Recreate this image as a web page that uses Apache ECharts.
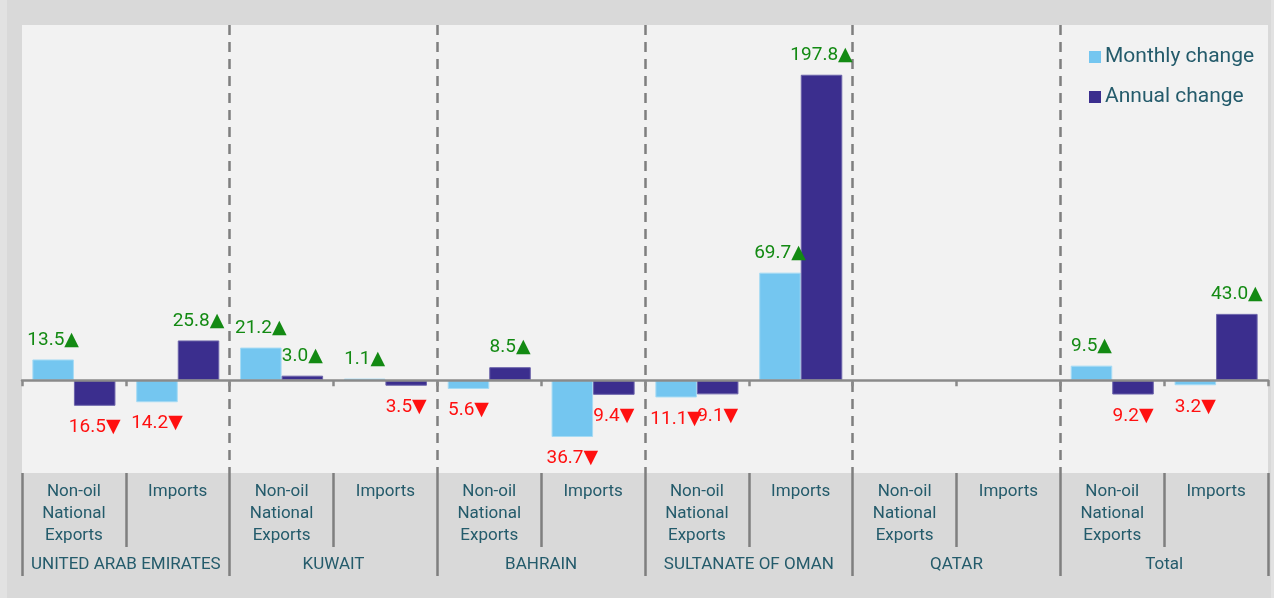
<!DOCTYPE html>
<html>
<head>
<meta charset="utf-8">
<script src="https://cdn.jsdelivr.net/npm/echarts@6/dist/echarts.min.js"></script>
<style>
  html, body { margin: 0; padding: 0; background: #d9d9d9; }
  #chart { width: 1274px; height: 598px; }
</style>
</head>
<body>
<div id="chart"></div>
<script>
// Trade flows per country
const flows = ['Non-oil\nNational\nExports', 'Imports'];
const countries = ['UNITED ARAB EMIRATES', 'KUWAIT', 'BAHRAIN', 'SULTANATE OF OMAN', 'QATAR', 'Total'];

// Percentage changes, one value per (country, flow); Qatar has no figures
const monthlyChange = [13.5, -14.2, 21.2, 1.1, -5.6, -36.7, -11.1, 69.7, null, null, 9.5, -3.2];
const annualChange  = [-16.5, 25.8, 3.0, -3.5, 8.5, -9.4, -9.1, 197.8, null, null, -9.2, 43.0];

const TEXT = '#245b6b';
const GRID_LINE = '#7f7f7f';
const FONT = 'Roboto, "DejaVu Sans", sans-serif';

const subCategories = [];
countries.forEach(() => flows.forEach(f => subCategories.push(f)));

function withLabels(values) {
  return values.map(v => {
    if (v === null) return null;
    const up = v >= 0;
    return {
      value: v,
      label: {
        show: true,
        position: up ? 'top' : 'bottom',
        distance: up ? 10 : 12,
        color: up ? '#138a13' : '#ff1010',
        formatter: Math.abs(v).toFixed(1) + (up ? '▲' : '▼')
      }
    };
  });
}

const chart = echarts.init(document.getElementById('chart'), null, { renderer: 'canvas' });

chart.setOption({
  backgroundColor: '#d9d9d9',
  animation: false,
  textStyle: { fontFamily: FONT },
  graphic: [
    { type: 'rect', left: 0, top: 0, shape: { width: 7, height: 598 }, style: { fill: '#e2e2e2' }, z: -1 },
    { type: 'rect', left: 1271, top: 0, shape: { width: 3, height: 598 }, style: { fill: '#e2e2e2' }, z: -1 }
  ],
  legend: {
    orient: 'vertical',
    left: 1089,
    top: 45,
    padding: 0,
    itemWidth: 12,
    itemHeight: 12,
    itemGap: 16,
    icon: 'rect',
    itemStyle: { borderWidth: 0 },
    textStyle: { color: TEXT, fontSize: 21, lineHeight: 24, padding: [0, 0, 0, -1], fontFamily: FONT },
    data: ['Monthly change', 'Annual change']
  },
  grid: {
    left: 22,
    right: 6,
    top: 25,
    bottom: 125,
    show: true,
    backgroundColor: '#f2f2f2',
    borderWidth: 0
  },
  xAxis: [
    {
      // zero line with small ticks between the bars
      type: 'category',
      data: subCategories,
      z: 5,
      axisLine: { onZero: true, lineStyle: { color: '#8a8a8a', width: 2.5 } },
      axisTick: { show: true, inside: false, interval: 0, length: 6, lineStyle: { color: '#8a8a8a', width: 2.5 } },
      axisLabel: { show: false },
      splitLine: { show: false }
    },
    {
      // flow labels under the plot, ticks act as separators
      type: 'category',
      position: 'bottom',
      data: subCategories,
      axisLine: { show: false, onZero: false },
      axisTick: { show: true, interval: 0, length: 74, lineStyle: { color: GRID_LINE, width: 2.5 } },
      axisLabel: {
        interval: 0,
        margin: 8,
        color: TEXT,
        fontSize: 17,
        lineHeight: 22,
        fontFamily: FONT,
        align: 'center',
        verticalAlign: 'top'
      },
      splitLine: { show: false }
    },
    {
      // country labels, group separators and dashed dividers
      type: 'category',
      position: 'bottom',
      data: countries,
      axisLine: { show: false, onZero: false },
      axisTick: { show: true, interval: 0, length: 103, lineStyle: { color: GRID_LINE, width: 2.5 } },
      axisLabel: {
        interval: 0,
        margin: 81,
        color: TEXT,
        fontSize: 17,
        lineHeight: 22,
        fontFamily: FONT,
        verticalAlign: 'top'
      },
      splitLine: {
        show: true,
        interval: 0,
        showMinLine: false,
        showMaxLine: false,
        lineStyle: { color: GRID_LINE, width: 2.5, type: [10, 7] }
      }
    }
  ],
  yAxis: {
    type: 'value',
    min: -60,
    max: 230,
    show: false,
    splitLine: { show: false }
  },
  series: [
    {
      name: 'Monthly change',
      type: 'bar',
      xAxisIndex: 0,
      barGap: '0%',
      barCategoryGap: '20%',
      itemStyle: { color: '#74c6f0', borderColor: '#a6dbf4', borderWidth: 1 },
      label: { fontSize: 19, fontFamily: FONT },
      data: withLabels(monthlyChange)
    },
    {
      name: 'Annual change',
      type: 'bar',
      xAxisIndex: 0,
      barGap: '0%',
      barCategoryGap: '20%',
      itemStyle: { color: '#3b2e8e', borderColor: '#6b63aa', borderWidth: 1 },
      label: { fontSize: 19, fontFamily: FONT },
      data: withLabels(annualChange)
    }
  ]
});
</script>
</body>
</html>
